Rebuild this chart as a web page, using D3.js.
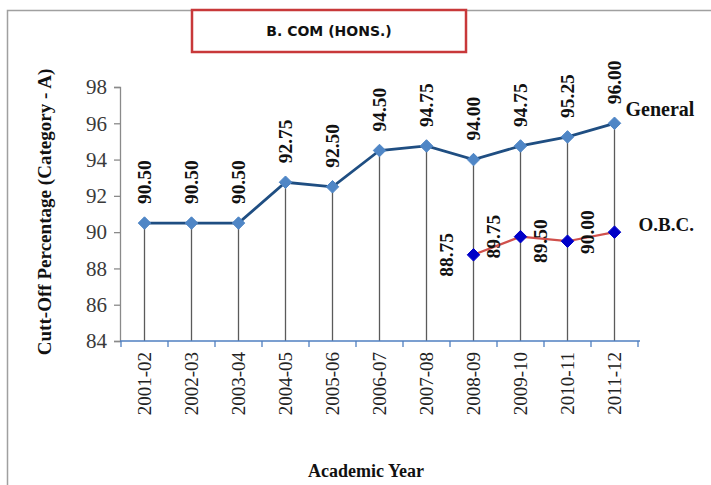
<!DOCTYPE html>
<html>
<head>
<meta charset="utf-8">
<script src="https://cdn.jsdelivr.net/npm/d3@7"></script>
<style>
  body { margin: 0; background: #fff; }
  svg { display: block; }
  .serif { font-family: "Liberation Serif", "DejaVu Serif", serif; }
</style>
</head>
<body>
<div id="chart"></div>
<script>
//////////////// DATA ////////////////

var years = ["2001-02", "2002-03", "2003-04", "2004-05", "2005-06", "2006-07",
             "2007-08", "2008-09", "2009-10", "2010-11", "2011-12"];
var generalValues = [90.50, 90.50, 90.50, 92.75, 92.50, 94.50, 94.75, 94.00, 94.75, 95.25, 96.00];
var obcYears = ["2008-09", "2009-10", "2010-11", "2011-12"];
var obcValues = [88.75, 89.75, 89.50, 90.00];
var yTicks = [84, 86, 88, 90, 92, 94, 96, 98];

//////////////// SETUP ////////////////

var w = 711, h = 485;

// Style constants
var generalLineColor = "#1f4e82",
    generalMarkerColor = "#4f86c6",
    obcLineColor = "#d0504c",
    obcMarkerColor = "#0000c8",
    dropLineColor = "#5a5a5a",
    xAxisColor = "#4f7fc0",
    yAxisColor = "#8a8a8a";

var svg = d3.select("#chart").append("svg")
    .attr("width", w)
    .attr("height", h);

svg.append("rect")
    .attr("width", w)
    .attr("height", h)
    .attr("fill", "#fff");

// Outer frame (only top and left edges are visible in the picture)
svg.append("path")
    .attr("d", "M7.5," + h + "V10.5H" + w)
    .attr("fill", "none")
    .attr("stroke", "#a0a0a0")
    .attr("stroke-width", 1.5);

// Scales
var xScale = d3.scaleBand()
    .domain(years)
    .range([121, 638]);

var yScale = d3.scaleLinear()
    .domain([84, 98])
    .range([341, 87]);

var cx = function(d) { return xScale(d) + xScale.bandwidth() / 2; };

//////////////// AXES ////////////////

// Y axis
var yAxis = d3.axisLeft(yScale)
    .tickValues(yTicks)
    .tickSize(6)
    .tickPadding(6);

var yG = svg.append("g")
    .attr("transform", "translate(120,0)")
    .call(yAxis);
yG.select(".domain").attr("stroke", yAxisColor).attr("stroke-width", 1.3);
yG.selectAll(".tick line").attr("stroke", yAxisColor).attr("stroke-width", 1.3);
yG.selectAll(".tick text")
    .attr("class", "serif")
    .attr("font-size", 21)
    .attr("x", -13)
    .attr("fill", "#3a3a3a");

// Drop lines from General markers to the axis
svg.append("g").selectAll("line")
    .data(years)
    .enter()
    .append("line")
    .attr("x1", function(d) { return cx(d); })
    .attr("x2", function(d) { return cx(d); })
    .attr("y1", function(d, i) { return yScale(generalValues[i]); })
    .attr("y2", yScale(84))
    .attr("stroke", dropLineColor)
    .attr("stroke-width", 1.3);

// X axis - ticks sit between categories
svg.append("line")
    .attr("x1", 120)
    .attr("x2", 640)
    .attr("y1", yScale(84))
    .attr("y2", yScale(84))
    .attr("stroke", xAxisColor)
    .attr("stroke-width", 1.5);

var boundaries = years.map(function(d) { return xScale(d); });
boundaries.push(xScale.range()[1]);
svg.append("g").selectAll("line")
    .data(boundaries)
    .enter()
    .append("line")
    .attr("x1", function(d) { return d; })
    .attr("x2", function(d) { return d; })
    .attr("y1", yScale(84))
    .attr("y2", yScale(84) + 6)
    .attr("stroke", xAxisColor)
    .attr("stroke-width", 1.3);

svg.append("g").selectAll("text")
    .data(years)
    .enter()
    .append("text")
    .attr("class", "serif")
    .attr("font-size", 19)
    .attr("fill", "#222")
    .attr("text-anchor", "end")
    .attr("transform", function(d) {
        return "translate(" + (cx(d) + 6) + "," + 352 + ") rotate(-90)";
    })
    .text(function(d) { return d; });

//////////////// SERIES ////////////////

var diamond = d3.symbol().type(d3.symbolDiamond2).size(100);

// General
var generalLine = d3.line()
    .x(function(d, i) { return cx(years[i]); })
    .y(function(d) { return yScale(d); });

svg.append("path")
    .datum(generalValues)
    .attr("d", generalLine)
    .attr("fill", "none")
    .attr("stroke", generalLineColor)
    .attr("stroke-width", 2.8);

svg.append("g").selectAll("path")
    .data(generalValues)
    .enter()
    .append("path")
    .attr("d", diamond)
    .attr("transform", function(d, i) {
        return "translate(" + cx(years[i]) + "," + yScale(d) + ")";
    })
    .attr("fill", generalMarkerColor)
    .attr("stroke", generalMarkerColor);

// O.B.C.
var obcLine = d3.line()
    .x(function(d, i) { return cx(obcYears[i]); })
    .y(function(d) { return yScale(d); });

svg.append("path")
    .datum(obcValues)
    .attr("d", obcLine)
    .attr("fill", "none")
    .attr("stroke", obcLineColor)
    .attr("stroke-width", 2.2);

svg.append("g").selectAll("path")
    .data(obcValues)
    .enter()
    .append("path")
    .attr("d", diamond)
    .attr("transform", function(d, i) {
        return "translate(" + cx(obcYears[i]) + "," + yScale(d) + ")";
    })
    .attr("fill", obcMarkerColor)
    .attr("stroke", obcMarkerColor);

//////////////// DATA LABELS ////////////////

svg.append("g").selectAll("text")
    .data(generalValues)
    .enter()
    .append("text")
    .attr("class", "serif")
    .attr("font-size", 18)
    .attr("font-weight", "bold")
    .attr("fill", "#111")
    .attr("text-anchor", "start")
    .attr("transform", function(d, i) {
        return "translate(" + (cx(years[i]) + 6) + "," + (yScale(d) - 19) + ") rotate(-90) scale(1.08,1)";
    })
    .text(function(d) { return d3.format(".2f")(d); });

svg.append("g").selectAll("text")
    .data(obcValues)
    .enter()
    .append("text")
    .attr("class", "serif")
    .attr("font-size", 18)
    .attr("font-weight", "bold")
    .attr("fill", "#111")
    .attr("text-anchor", "middle")
    .attr("transform", function(d, i) {
        return "translate(" + (cx(obcYears[i]) - 21) + "," + yScale(d) + ") rotate(-90) scale(1.08,1)";
    })
    .text(function(d) { return d3.format(".2f")(d); });

// Series names next to the last points
svg.append("text")
    .attr("class", "serif")
    .attr("font-size", 20)
    .attr("font-weight", "bold")
    .attr("fill", "#111")
    .attr("x", cx(years[years.length - 1]) + 11)
    .attr("y", yScale(generalValues[generalValues.length - 1]) - 14)
    .attr("dy", "0.35em")
    .text("General");

svg.append("text")
    .attr("class", "serif")
    .attr("font-size", 19)
    .attr("font-weight", "bold")
    .attr("fill", "#111")
    .attr("x", cx(obcYears[obcYears.length - 1]) + 24)
    .attr("y", yScale(obcValues[obcValues.length - 1]) - 8)
    .attr("dy", "0.35em")
    .text("O.B.C.");

//////////////// TITLES ////////////////

svg.append("rect")
    .attr("x", 192)
    .attr("y", 10)
    .attr("width", 274)
    .attr("height", 42)
    .attr("fill", "#fff")
    .attr("stroke", "#c8383a")
    .attr("stroke-width", 2.5);

svg.append("text")
    .attr("x", 329)
    .attr("y", 31)
    .attr("dy", "0.35em")
    .attr("text-anchor", "middle")
    .attr("font-family", "'DejaVu Sans', Verdana, sans-serif")
    .attr("font-size", 14)
    .attr("font-weight", "bold")
    .attr("fill", "#111")
    .text("B. COM (HONS.)");

svg.append("text")
    .attr("class", "serif")
    .attr("font-size", 18)
    .attr("font-weight", "bold")
    .attr("fill", "#111")
    .attr("text-anchor", "middle")
    .attr("transform", "translate(51,212) rotate(-90) scale(1.06,1)")
    .text("Cutt-Off Percentage (Category - A)");

svg.append("text")
    .attr("class", "serif")
    .attr("font-size", 18)
    .attr("font-weight", "bold")
    .attr("fill", "#111")
    .attr("text-anchor", "middle")
    .attr("x", 366)
    .attr("y", 477)
    .text("Academic Year");
</script>
</body>
</html>
